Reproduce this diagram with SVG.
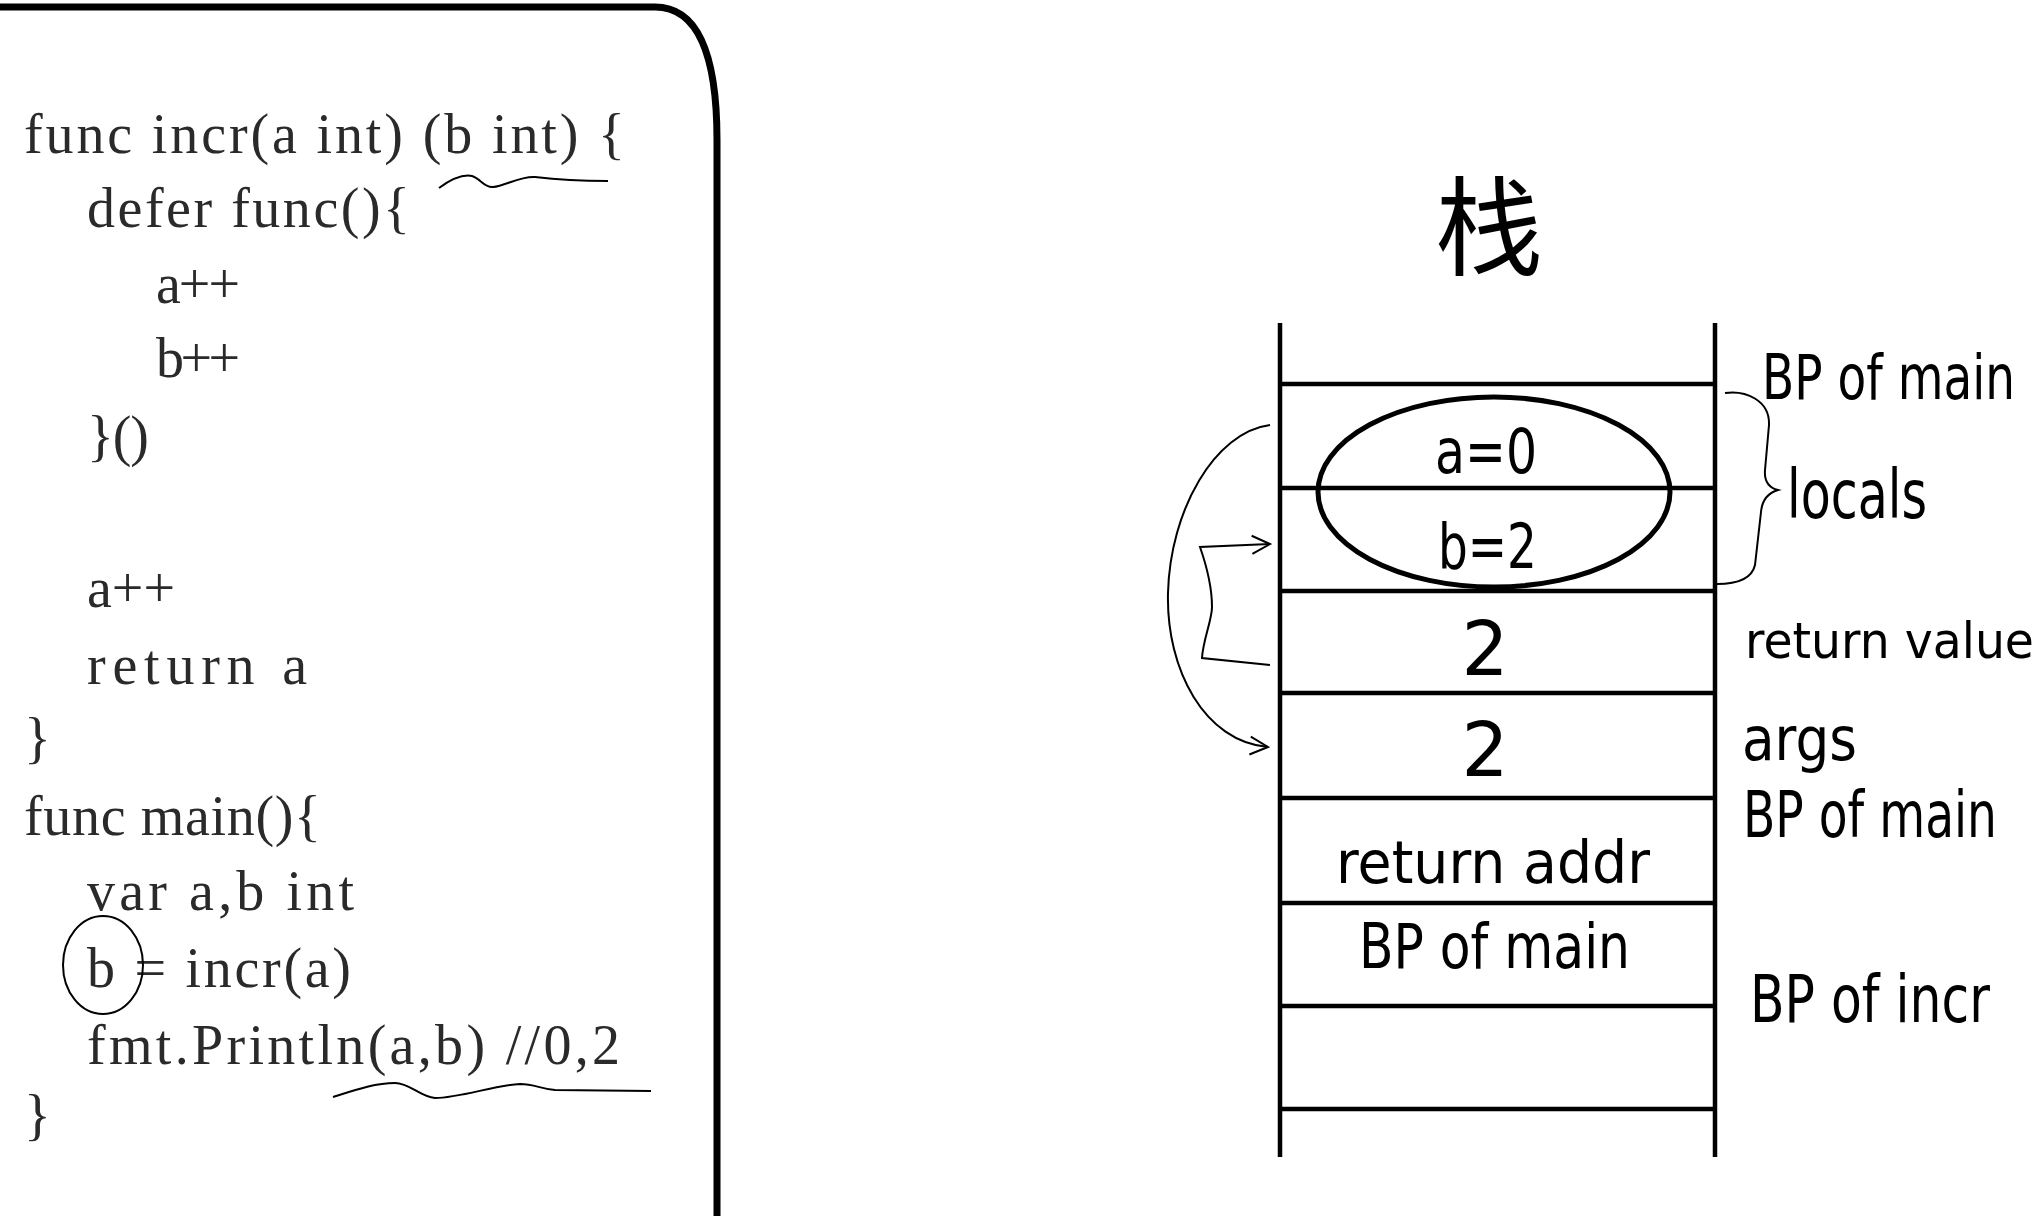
<svg xmlns="http://www.w3.org/2000/svg" width="2036" height="1216" viewBox="0 0 2036 1216">
<style>
.code{font-family:"Liberation Serif",serif;font-size:56px;fill:#2a2a2a}
.hw{font-family:"DejaVu Sans",sans-serif;fill:#000}
.line{stroke:#000;stroke-width:4.5;fill:none}
.thin{stroke:#000;stroke-width:2;fill:none}
.cjk{font-family:"Noto Sans CJK SC",sans-serif;font-size:108px;fill:#000}
</style>
<defs>
<marker id="arr" markerUnits="userSpaceOnUse" markerWidth="24" markerHeight="24" viewBox="0 0 24 24" refX="20" refY="12" orient="auto">
<path d="M2,3 L20,12 L2,21" fill="none" stroke="#000" stroke-width="2"/>
</marker>
</defs>
<rect width="2036" height="1216" fill="#fff"/>
<g id="code-panel">
<path d="M0,7 H655 C700,7 717,60 717,140 V1216" fill="none" stroke="#000" stroke-width="7"/>
<g id="code">
<text class="code" x="24" y="153" textLength="601">func incr(a int) (b int) {</text>
<text class="code" x="87" y="227" textLength="323">defer func(){</text>
<text class="code" x="156" y="303" textLength="84">a++</text>
<text class="code" x="156" y="377" textLength="84">b++</text>
<text class="code" x="87" y="455" textLength="62">}()</text>
<text class="code" x="87" y="607" textLength="88">a++</text>
<text class="code" x="87" y="684" textLength="220">return a</text>
<text class="code" x="24" y="757">}</text>
<text class="code" x="24" y="835" textLength="297">func main(){</text>
<text class="code" x="87" y="910" textLength="267">var a,b int</text>
<text class="code" x="87" y="987" textLength="264">b = incr(a)</text>
<text class="code" x="87" y="1064" textLength="533">fmt.Println(a,b) //0,2</text>
<text class="code" x="24" y="1134">}</text>
</g>
<g id="annotations">
<path class="thin" d="M439,188 C450,180 462,174 472,176 C480,178 484,188 493,187 C505,186 520,176 535,177 C560,180 590,181 608,181"/>
<path class="thin" d="M333,1097 C355,1090 375,1083 395,1083 C410,1083 420,1097 435,1098 C460,1098 495,1085 520,1084 C535,1084 540,1089 555,1090 L651,1091"/>
<ellipse class="thin" cx="103" cy="965" rx="40" ry="49"/>
</g>
</g>
<g id="stack-title">
<text class="cjk" x="1489" y="267" text-anchor="middle">栈</text>
</g>
<g id="stack">
<line class="line" x1="1280" y1="323" x2="1280" y2="1157"/>
<line class="line" x1="1715" y1="323" x2="1715" y2="1157"/>
<line class="line" x1="1280" y1="384" x2="1715" y2="384"/>
<line class="line" x1="1280" y1="488" x2="1715" y2="488"/>
<line class="line" x1="1280" y1="591" x2="1715" y2="591"/>
<line class="line" x1="1280" y1="693" x2="1715" y2="693"/>
<line class="line" x1="1280" y1="798" x2="1715" y2="798"/>
<line class="line" x1="1280" y1="903" x2="1715" y2="903"/>
<line class="line" x1="1280" y1="1006" x2="1715" y2="1006"/>
<line class="line" x1="1280" y1="1109" x2="1715" y2="1109"/>
</g>
<g id="cell-locals">
<ellipse cx="1494" cy="492" rx="176" ry="95" fill="none" stroke="#000" stroke-width="5"/>
<text class="hw" x="1435" y="473" font-size="63" textLength="102" lengthAdjust="spacingAndGlyphs">a=0</text>
<text class="hw" x="1438" y="568" font-size="63" textLength="99" lengthAdjust="spacingAndGlyphs">b=2</text>
</g>
<g id="cell-return-value">
<text class="hw" x="1485" y="675" font-size="74" text-anchor="middle">2</text>
</g>
<g id="cell-args">
<text class="hw" x="1485" y="776" font-size="74" text-anchor="middle">2</text>
</g>
<g id="cell-return-addr">
<text class="hw" x="1336" y="883" font-size="59" textLength="314" lengthAdjust="spacingAndGlyphs">return addr</text>
</g>
<g id="cell-bp-main">
<text class="hw" x="1359" y="968" font-size="63" textLength="271" lengthAdjust="spacingAndGlyphs">BP of main</text>
</g>
<g id="labels">
<text class="hw" x="1762" y="399" font-size="63" textLength="253" lengthAdjust="spacingAndGlyphs">BP of main</text>
<text class="hw" x="1787" y="518" font-size="68" textLength="140" lengthAdjust="spacingAndGlyphs">locals</text>
<text class="hw" x="1745" y="658" font-size="50" textLength="289" lengthAdjust="spacingAndGlyphs">return value</text>
<text class="hw" x="1742" y="760" font-size="60" textLength="115" lengthAdjust="spacingAndGlyphs">args</text>
<text class="hw" x="1743" y="837" font-size="64" textLength="254" lengthAdjust="spacingAndGlyphs">BP of main</text>
<text class="hw" x="1750" y="1022" font-size="66" textLength="240" lengthAdjust="spacingAndGlyphs">BP of incr</text>
<path class="thin" d="M1725,393 C1745,390 1770,400 1769,425 L1765,470 C1764,482 1770,488 1778,490 C1768,493 1762,500 1761,512 L1755,565 C1752,578 1740,584 1717,584"/>
</g>
<g id="connectors">
<path class="thin" d="M1270,425 C1215,432 1170,510 1168,593 C1166,670 1205,742 1268,747" marker-end="url(#arr)"/>
<path class="thin" d="M1270,665 L1202,658 C1203,640 1212,620 1212,607 C1212,590 1208,570 1200,547 L1270,544" marker-end="url(#arr)"/>
</g>
</svg>
